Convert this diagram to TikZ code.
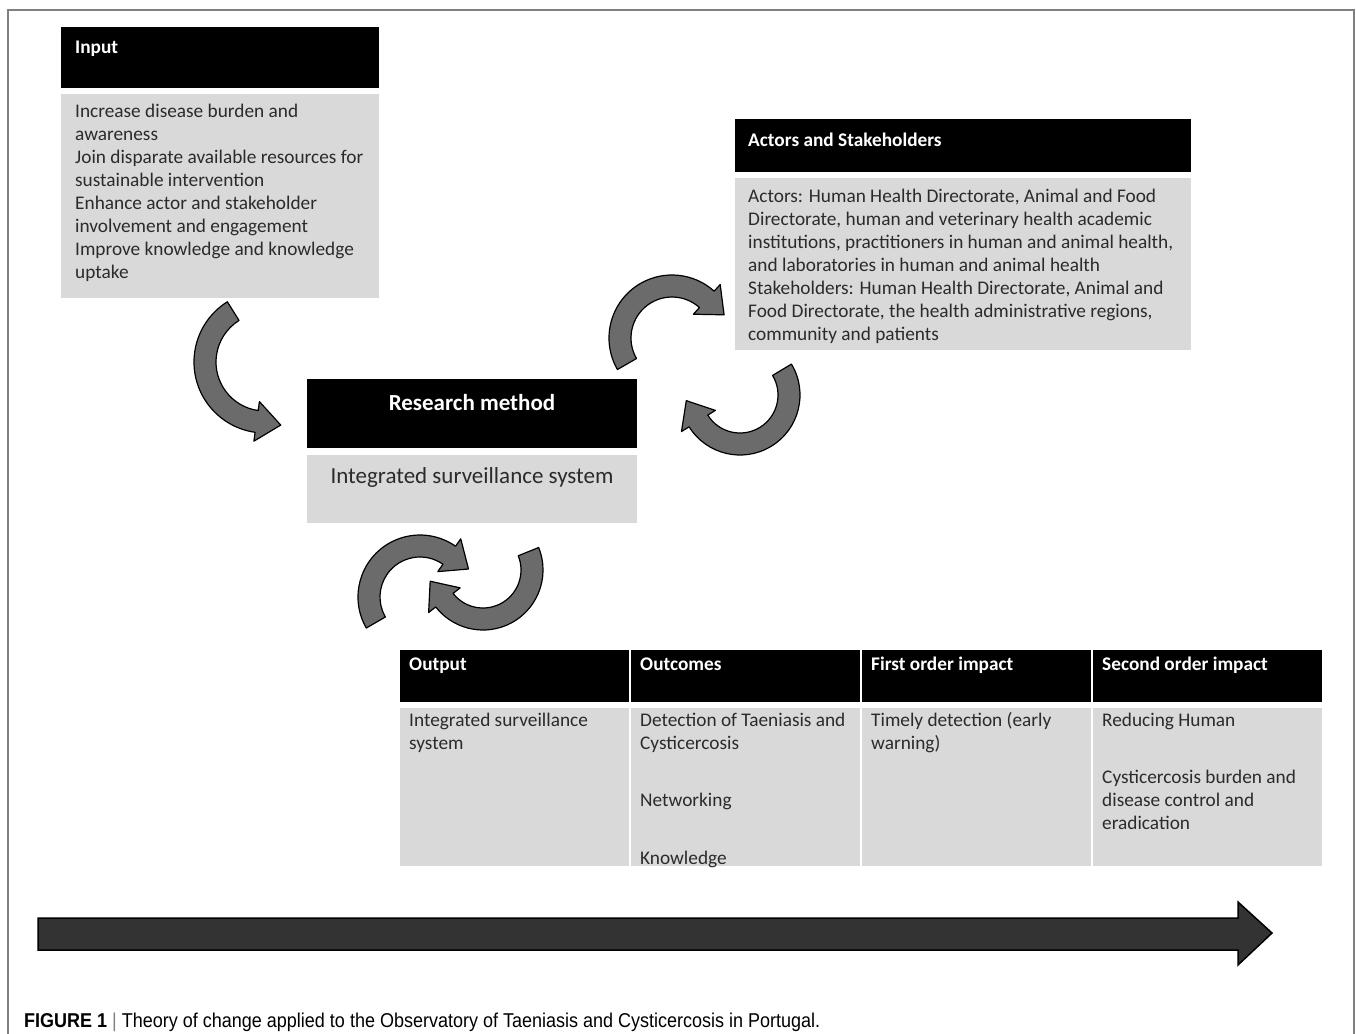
\documentclass[tikz,border=0pt]{standalone}
\usepackage{fontspec}
\setmainfont{Carlito}
\newfontfamily\capfont[FakeStretch=0.9]{Liberation Sans}
\usetikzlibrary{calc}
\definecolor{boxgray}{HTML}{D9D9D9}
\definecolor{arrgray}{HTML}{6B6B6B}
\definecolor{bigarr}{HTML}{333333}
\definecolor{txt}{HTML}{2B2B2B}
\definecolor{framegray}{HTML}{808080}
\tikzset{
  hdrbox/.style={fill=black, draw=none, inner sep=0pt, outer sep=0pt, anchor=north west},
  bodybox/.style={fill=boxgray, draw=none, inner sep=0pt, outer sep=0pt, anchor=north west},
  hdrtxt/.style={text=white, font=\fontsize{19.3}{23}\selectfont\bfseries, inner sep=0pt, anchor=base west},
  bodytxt/.style={text=txt, font=\fontsize{19.3}{23}\selectfont, inner sep=0pt, anchor=base west},
  curv/.style={fill=arrgray, draw=black, line width=1.2pt, line join=round},
  bigarrow/.style={fill=bigarr, draw=black, line width=1.5pt, line join=miter}
}
\newcommand{\curvarrow}[7]{%
  \pgfmathsetmacro{\cvRo}{#4+11}%
  \pgfmathsetmacro{\cvRi}{#4-11}%
  \pgfmathsetmacro{\cvRbo}{#4+20}%
  \pgfmathsetmacro{\cvRbi}{#4-20}%
  \pgfmathsetmacro{\cvRt}{#4+5}%
  \coordinate (#1) at (#2,#3);
  \draw[curv] ($(#1)+(#5:\cvRo)$) arc[start angle=#5, end angle=#6, radius=\cvRo]
     -- ($(#1)+(#6:\cvRbo)$) -- ($(#1)+(#7:\cvRt)$) -- ($(#1)+(#6:\cvRbi)$)
     -- ($(#1)+(#6:\cvRi)$) arc[start angle=#6, end angle=#5, radius=\cvRi] -- cycle;
}
\newcommand{\textlines}[4]{%
  \foreach \ln [count=\k] in {#4} {\node[bodytxt] (#1-\k) at (#2, {#3+23*(\k-1)}) {\ln};}
}
\begin{document}
\begin{tikzpicture}[x=1pt, y=-1pt]
\useasboundingbox (0,0) rectangle (1356,1033);
\fill[white] (0,0) rectangle (1356,1033);
% frame
\draw[framegray, line width=1.6pt] (8,1040) -- (8,10) -- (1354,10) -- (1354,1040);

% Input box
\node[hdrbox, minimum width=318pt, minimum height=61pt] (inH) at (61,27) {};
\node[bodybox, minimum width=318pt, minimum height=204pt] (inB) at (61,94) {};
\node[hdrtxt] (inT) at (75,54) {Input};
\textlines{inL}{75}{117}{{Increase disease burden and},{awareness},{Join disparate available resources for},{sustainable intervention},{Enhance actor and stakeholder},{involvement and engagement},{Improve knowledge and knowledge},{uptake}}

% Actors box
\node[hdrbox, minimum width=456pt, minimum height=53pt] (acH) at (735,119) {};
\node[bodybox, minimum width=456pt, minimum height=172pt] (acB) at (735,178) {};
\node[hdrtxt] (acT) at (748,146) {Actors and Stakeholders};
\textlines{acL}{748}{202}{{Actors: Human Health Directorate, Animal and Food},{Directorate, human and veterinary health academic},{institutions, practitioners in human and animal health,},{and laboratories in human and animal health},{Stakeholders: Human Health Directorate, Animal and},{Food Directorate, the health administrative regions,},{community and patients}}

% Research method box
\node[hdrbox, minimum width=330pt, minimum height=69pt] (rmH) at (307,379) {};
\node[bodybox, minimum width=330pt, minimum height=68pt] (rmB) at (307,455) {};
\node[text=white, font=\fontsize{23}{28}\selectfont\bfseries, inner sep=0pt, anchor=base] (rmT) at (472,410) {Research method};
\node[text=txt, font=\fontsize{23}{28}\selectfont, inner sep=0pt, anchor=base] (rmS) at (472,483) {Integrated surveillance system};

% Table
\node[hdrbox, minimum width=229pt, minimum height=52pt] (h1) at (400,650) {};
\node[hdrbox, minimum width=229pt, minimum height=52pt] (h2) at (631,650) {};
\node[hdrbox, minimum width=229pt, minimum height=52pt] (h3) at (862,650) {};
\node[hdrbox, minimum width=229pt, minimum height=52pt] (h4) at (1093,650) {};
\node[bodybox, minimum width=229pt, minimum height=158pt] (b1) at (400,708) {};
\node[bodybox, minimum width=229pt, minimum height=158pt] (b2) at (631,708) {};
\node[bodybox, minimum width=229pt, minimum height=158pt] (b3) at (862,708) {};
\node[bodybox, minimum width=229pt, minimum height=158pt] (b4) at (1093,708) {};
\node[hdrtxt] (t1) at (409,670) {Output};
\node[hdrtxt] (t2) at (640,670) {Outcomes};
\node[hdrtxt] (t3) at (871,670) {First order impact};
\node[hdrtxt] (t4) at (1102,670) {Second order impact};
\node[bodytxt] (c1a) at (409,726) {Integrated surveillance};
\node[bodytxt] (c1b) at (409,749) {system};
\node[bodytxt] (c2a) at (640,726) {Detection of Taeniasis and};
\node[bodytxt] (c2b) at (640,749) {Cysticercosis};
\node[bodytxt] (c2c) at (640,806) {Networking};
\node[bodytxt] (c2d) at (640,864) {Knowledge};
\node[bodytxt] (c3a) at (871,726) {Timely detection (early};
\node[bodytxt] (c3b) at (871,749) {warning)};
\node[bodytxt] (c4a) at (1102,726) {Reducing Human};
\node[bodytxt] (c4b) at (1102,783) {Cysticercosis burden and};
\node[bodytxt] (c4c) at (1102,806) {disease control and};
\node[bodytxt] (c4d) at (1102,829) {eradication};

% curved arrows
\curvarrow{a1}{265}{362}{60}{238}{98}{76}
\curvarrow{a2}{672}{338}{52}{150}{312}{336}
\curvarrow{a3}{740}{395}{49}{-31}{148}{174}
\curvarrow{a4}{420}{597}{51}{150}{305}{330}
\curvarrow{a5}{483}{570}{49}{-22}{142}{168}

% big timeline arrow
\coordinate (ba0) at (38,918);
\coordinate (baTip) at (1272,933);
\draw[bigarrow] (ba0) -- (1238,918) -- (1238,902) -- (baTip) -- (1238,965) -- (1238,950) -- (38,950) -- cycle;

% caption
\node[anchor=base west, inner sep=0pt, text=black] (cap) at (24,1027) {\capfont\fontsize{20}{24}\selectfont\textbf{FIGURE 1} {\color{framegray}|} Theory of change applied to the Observatory of Taeniasis and Cysticercosis in Portugal.};
\end{tikzpicture}
\end{document}
